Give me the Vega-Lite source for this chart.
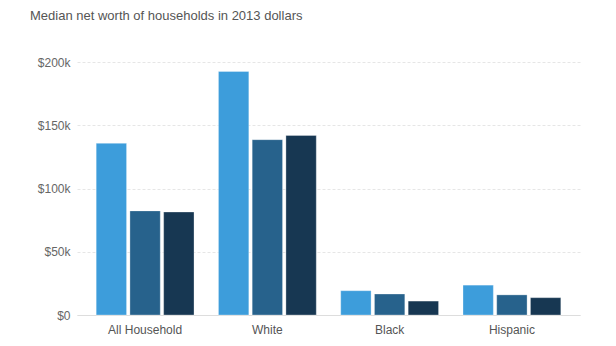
{
  "$schema": "https://vega.github.io/schema/vega-lite/v6.json",
  "width": 503,
  "height": 253,
  "autosize": "none",
  "padding": {"left": 77, "top": 62, "right": 36, "bottom": 31},
  "background": "#ffffff",
  "title": {
    "text": "Median net worth of households in 2013 dollars",
    "anchor": "start",
    "frame": "group",
    "dx": -47,
    "offset": 33,
    "font": "Liberation Sans",
    "fontSize": 13,
    "fontWeight": "normal",
    "color": "#555555"
  },
  "data": {
    "values": [
      {"group": "All Household", "year": "2007", "value": 135700},
      {"group": "All Household", "year": "2010", "value": 82300},
      {"group": "All Household", "year": "2013", "value": 81400},
      {"group": "White", "year": "2007", "value": 192500},
      {"group": "White", "year": "2010", "value": 138600},
      {"group": "White", "year": "2013", "value": 141900},
      {"group": "Black", "year": "2007", "value": 19200},
      {"group": "Black", "year": "2010", "value": 16600},
      {"group": "Black", "year": "2013", "value": 11000},
      {"group": "Hispanic", "year": "2007", "value": 23600},
      {"group": "Hispanic", "year": "2010", "value": 15900},
      {"group": "Hispanic", "year": "2013", "value": 13700}
    ]
  },
  "mark": {"type": "bar", "stroke": "#ffffff", "strokeWidth": 0.6, "strokeOpacity": 0.5},
  "encoding": {
    "x": {
      "field": "group",
      "type": "nominal",
      "sort": ["All Household", "White", "Black", "Hispanic"],
      "scale": {"paddingInner": 0.2, "paddingOuter": 0.157},
      "axis": {
        "title": null,
        "labelAngle": 0,
        "ticks": false,
        "domain": true,
        "domainColor": "#dddddd",
        "labelPadding": 9,
        "labelFont": "Liberation Sans",
        "labelFontSize": 12,
        "labelColor": "#555555"
      }
    },
    "xOffset": {
      "field": "year",
      "type": "nominal",
      "scale": {"paddingInner": 0.1, "paddingOuter": 0}
    },
    "y": {
      "field": "value",
      "type": "quantitative",
      "scale": {"domain": [0, 200000], "nice": false},
      "axis": {
        "title": null,
        "values": [0, 50000, 100000, 150000, 200000],
        "labelExpr": "datum.value == 0 ? '$0' : '$' + (datum.value / 1000) + 'k'",
        "ticks": false,
        "domain": false,
        "labelPadding": 7,
        "labelFont": "Liberation Sans",
        "labelFontSize": 12,
        "labelColor": "#666666",
        "grid": true,
        "gridColor": "#e6e6e6",
        "gridDash": [3, 2]
      }
    },
    "color": {
      "field": "year",
      "type": "nominal",
      "scale": {"domain": ["2007", "2010", "2013"], "range": ["#3d9ddb", "#27628c", "#173752"]},
      "legend": null
    }
  },
  "config": {"view": {"stroke": null}}
}
